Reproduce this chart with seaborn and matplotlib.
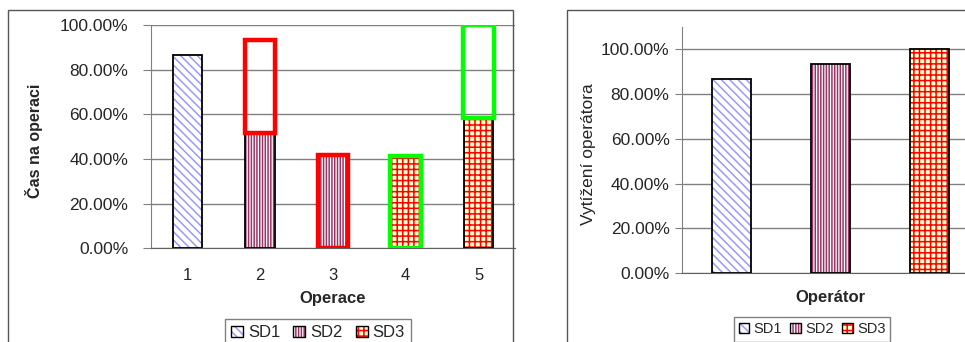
import matplotlib
matplotlib.use("Agg")
import matplotlib.pyplot as plt
import pandas as pd
import seaborn as sns
from matplotlib.patches import Patch, Rectangle
from matplotlib.ticker import PercentFormatter

# data (percent)
operations = ["1", "2", "3", "4", "5"]
op_operator = ["SD1", "SD2", "SD2", "SD3", "SD3"]
op_time = [86.7, 51.7, 41.6, 41.5, 58.3]

operators = ["SD1", "SD2", "SD3"]
operator_load = [86.7, 93.3, 100.0]

# red / green frames: work of op 3 moved onto op 2, op 4 moved onto op 5
frame_ops = ["2", "3", "4", "5"]
frame_bottom = [op_time[1], 0, 0, op_time[4]]
frame_height = [op_time[2], op_time[2], op_time[3], op_time[3]]
frame_color = ["#ff0000", "#ff0000", "#00ff00", "#00ff00"]

hatch_style = {
    "SD1": dict(hatch="\\\\\\\\", face="white", line="#9999ff"),
    "SD2": dict(hatch="||||||", face="white", line="#993366"),
    "SD3": dict(hatch="+++", face="#ffffcc", line="#ff0000"),
}

sns.set_style("white")
plt.rcParams["font.family"] = ["Liberation Sans", "DejaVu Sans"]
plt.rcParams["hatch.linewidth"] = 1.1

fig = plt.figure(figsize=(9.65, 3.42), dpi=100)

# outer chart borders
fig.add_artist(Rectangle((8 / 965, -0.05), 505 / 965, 1.05 - 10 / 342,
                         transform=fig.transFigure, fill=False, edgecolor="#555555", lw=1))
fig.add_artist(Rectangle((567 / 965, -0.05), 0.5, 1.05 - 10 / 342,
                         transform=fig.transFigure, fill=False, edgecolor="#555555", lw=1))


def style_bars(ax, levels):
    for cont, lev in zip(ax.containers, levels):
        st = hatch_style[lev]
        for p in cont:
            p.set_facecolor(st["face"])
            p.set_edgecolor(st["line"])
            p.set_hatch(st["hatch"])
            p.set_linewidth(0)


def legend_handles():
    hs = []
    for lev in operators:
        st = hatch_style[lev]
        hs.append((Patch(facecolor=st["face"], edgecolor=st["line"], hatch=st["hatch"], lw=0),
                   Patch(facecolor="none", edgecolor="black", lw=1)))
    return hs


# ---- left chart: time per operation ----
ax1 = fig.add_axes([150.7 / 965, (342 - 248.3) / 342, 364.3 / 965, 223.3 / 342])
df_ops = pd.DataFrame({"op": operations, "sd": op_operator, "val": op_time})
sns.barplot(data=df_ops, x="op", y="val", hue="sd", dodge=False, width=0.4,
            ax=ax1, legend=False, hue_order=operators)
style_bars(ax1, operators)
ax1.bar(operations, op_time, width=0.4, fill=False, edgecolor="black", lw=1.3, zorder=3)
ax1.bar(frame_ops, frame_height, bottom=frame_bottom, width=0.42, fill=False,
        edgecolor=frame_color, lw=3.2, zorder=4)
ax1.set_ylim(0, 100)
ax1.set_xlim(-0.5, 4.5)
ax1.yaxis.set_major_formatter(PercentFormatter(100, decimals=2))
ax1.set_yticks([0, 20, 40, 60, 80, 100])
ax1.grid(axis="y", color="#808080", lw=1)
ax1.set_axisbelow(True)
for s in ["top", "right"]:
    ax1.spines[s].set_visible(False)
ax1.spines["left"].set_color("#808080")
ax1.spines["bottom"].set_color("#606060")
ax1.set_xticks([0, 1, 2, 3, 4])
ax1.set_xticks([-0.5, 0.5, 1.5, 2.5, 3.5, 4.5], minor=True)
ax1.tick_params(axis="x", which="major", length=0, pad=14, labelsize=12)
ax1.tick_params(axis="x", which="minor", length=6, color="#606060", direction="out")
ax1.tick_params(axis="y", length=6, color="#808080", labelsize=12.5, pad=10, left=True)
ax1.set_xlabel("Operace", fontsize=12, fontweight="bold", labelpad=6)
ax1.set_ylabel("Čas na operaci", fontsize=11.5, fontweight="bold")
ax1.yaxis.set_label_coords(-0.295, 0.48)
fig.legend(legend_handles(), operators, loc="upper center",
           bbox_to_anchor=(318 / 965, 1 - 311 / 342), ncol=3, fontsize=12,
           frameon=True, fancybox=False, edgecolor="#808080", framealpha=1,
           handlelength=0.7, handleheight=0.7, handletextpad=0.3, columnspacing=0.8,
           borderpad=0.35)

# ---- right chart: operator load ----
ax2 = fig.add_axes([682 / 965, (342 - 273) / 342, 297 / 965, 246 / 342])
df_load = pd.DataFrame({"sd": operators, "val": operator_load})
sns.barplot(data=df_load, x="sd", y="val", hue="sd", dodge=False, width=0.4,
            ax=ax2, legend=False, hue_order=operators)
style_bars(ax2, operators)
ax2.bar(operators, operator_load, width=0.4, fill=False, edgecolor="black", lw=1.3, zorder=3)
ax2.set_ylim(0, 110)
ax2.set_xlim(-0.5, 2.5)
ax2.set_yticks([0, 20, 40, 60, 80, 100])
ax2.yaxis.set_major_formatter(PercentFormatter(100, decimals=2))
ax2.grid(axis="y", color="#808080", lw=1)
ax2.set_axisbelow(True)
for s in ["top", "right"]:
    ax2.spines[s].set_visible(False)
ax2.spines["left"].set_color("#808080")
ax2.spines["bottom"].set_color("#606060")
ax2.set_xticks([])
ax2.tick_params(axis="y", length=5, color="#808080", labelsize=12.5, pad=4, left=True)
ax2.set_xlabel("Operátor", fontsize=12, fontweight="bold", labelpad=12)
ax2.set_ylabel("Vytížení operátora", fontsize=12.5)
ax2.yaxis.set_label_coords(-0.29, 0.484)
fig.legend(legend_handles(), operators, loc="upper center",
           bbox_to_anchor=(812 / 965, 1 - 310 / 342), ncol=3, fontsize=10.5,
           frameon=True, fancybox=False, edgecolor="#808080", framealpha=1,
           handlelength=0.7, handleheight=0.7, handletextpad=0.3, columnspacing=0.6,
           borderpad=0.35)

fig.savefig("out.png", dpi=100, facecolor="white")
